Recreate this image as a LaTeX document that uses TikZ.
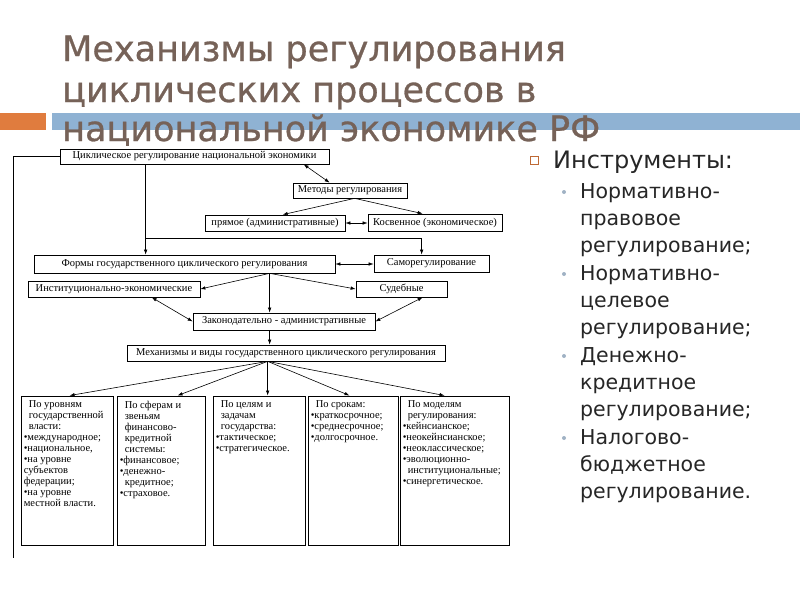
\documentclass[tikz,border=0pt]{standalone}
\usepackage{fontspec}
\setmainfont{Liberation Serif}
\newfontfamily\slidefont{DejaVu Sans}
\newfontfamily\titlefont[FakeBold=0.8]{DejaVu Sans}
\usetikzlibrary{arrows.meta,positioning,calc}

\definecolor{titlebrown}{RGB}{118,98,88}
\definecolor{barblue}{RGB}{143,178,211}
\definecolor{barorange}{RGB}{224,124,62}
\definecolor{dotgray}{RGB}{160,178,196}

\tikzset{
  box/.style={draw, line width=0.7pt, inner sep=0pt, minimum height=15pt, font=\fontsize{10.5}{11}\selectfont},
  colbox/.style={draw, line width=0.9pt, inner sep=0pt, minimum height=149pt},
  coltext/.style={anchor=north west, align=left, inner sep=0pt, font=\fontsize{10.5}{11}\selectfont},
  arr/.style={-{Latex[length=5pt,width=3.5pt]}, line width=0.6pt},
  darr/.style={{Latex[length=5pt,width=3.5pt]}-{Latex[length=5pt,width=3.5pt]}, line width=0.6pt},
  ttl/.style={anchor=base west, inner sep=0pt, text=titlebrown, font=\titlefont\fontsize{35}{40}\selectfont},
  item/.style={anchor=north west, align=left, inner sep=0pt, text=black!85, font=\slidefont\fontsize{20.5}{27}\selectfont},
}

\begin{document}
\begin{tikzpicture}[x=1pt,y=-1pt]
\useasboundingbox (0,0) rectangle (800,600);
%Kopfzeile
\fill[barorange] (0,113) rectangle (46,130);
\fill[barblue] (52,113) rectangle (800,130);
\node[ttl] (ttlA) at (62,61) {Механизмы регулирования};
\node[ttl] (ttlB) at (62,102) {циклических процессов в};
\node[ttl] (ttlC) at (62,141) {национальной экономике РФ};

%Instrumente
\draw[barorange!85!black, line width=0.8pt] (530,156) rectangle (538,164);
\node[anchor=base west, inner sep=0pt, text=black!85, font=\slidefont\fontsize{24}{27}\selectfont] (instr) at (553,168) {Инструменты:};
\foreach \txt [count=\i] in {{Нормативно-\\правовое\\регулирование;},{Нормативно-\\целевое\\регулирование;},{Денежно-\\кредитное\\регулирование;},{Налогово-\\бюджетное\\регулирование.}} {
  \node[item] (item\i) at (580,{183+82*(\i-1)}) {\txt};
  \fill[dotgray] ([xshift=-16pt,yshift=-9pt]item\i.north west) circle (2pt);
}

%Obere Ebene
\node[box, minimum width=269pt] (cyc) at (194.5,156.5) {Циклическое регулирование национальной экономики};
\node[box, minimum width=114pt] (methods) at (350,190.5) {Методы регулирования};
\node[box, minimum width=140pt, minimum height=16pt] (direct) at (275,223) {прямое (административные)};
\node[box, minimum width=134pt, minimum height=17pt] (indirect) at (435,222.5) {Косвенное (экономическое)};
\node[box, minimum width=301pt, minimum height=18pt] (forms) at (184.5,264) {Формы государственного циклического регулирования};
\node[box, minimum width=115pt, minimum height=17pt] (self) at (431.5,263.5) {Саморегулирование};
\node[box, minimum width=172pt, minimum height=16pt] (inst) at (114,289) {Институционально-экономические};
\node[box, minimum width=91pt, minimum height=16pt] (jud) at (401.5,289) {Судебные};
\node[box, minimum width=182pt, minimum height=17pt] (leg) at (284,321.5) {Законодательно - административные};
\node[box, minimum width=318pt, minimum height=16pt] (mech) at (286,353) {Механизмы и виды государственного циклического регулирования};

%Untere Spalten
\node[colbox, minimum width=92pt] (lvl) at (67,470.5) {};
\node[colbox, minimum width=88pt] (sphere) at (161,470.5) {};
\node[colbox, minimum width=92pt] (goal) at (259,470.5) {};
\node[colbox, minimum width=90pt] (term) at (353,470.5) {};
\node[colbox, minimum width=109pt] (model) at (454.5,470.5) {};

\node[coltext] (lvltxt) at ([xshift=3pt,yshift=-5pt]lvl.north west) {\hspace*{5pt}По уровням\\\hspace*{5pt}государственной\\\hspace*{5pt}власти:\\•международное;\\•национальное,\\•на уровне\\субъектов\\федерации;\\•на уровне\\местной власти.};
\node[coltext] (spheretxt) at ([xshift=3pt,yshift=-5pt]sphere.north west) {\hspace*{5pt}По сферам и\\\hspace*{5pt}звеньям\\\hspace*{5pt}финансово-\\\hspace*{5pt}кредитной\\\hspace*{5pt}системы:\\•финансовое;\\•денежно-\\\hspace*{5pt}кредитное;\\•страховое.};
\node[coltext] (goaltxt) at ([xshift=3pt,yshift=-5pt]goal.north west) {\hspace*{5pt}По целям и\\\hspace*{5pt}задачам\\\hspace*{5pt}государства:\\•тактическое;\\•стратегическое.};
\node[coltext] (termtxt) at ([xshift=3pt,yshift=-5pt]term.north west) {\hspace*{5pt}По срокам:\\•краткосрочное;\\•среднесрочное;\\•долгосрочное.};
\node[coltext] (modeltxt) at ([xshift=3pt,yshift=-5pt]model.north west) {\hspace*{5pt}По моделям\\\hspace*{5pt}регулирования:\\•кейнсианское;\\•неокейнсианское;\\•неоклассическое;\\•эволюционно-\\\hspace*{5pt}институциональные;\\•синергетическое.};

%Verbindungen
\coordinate (splitA) at ([xshift=86pt]cyc.south west);
\coordinate (fork) at ([yshift=-74pt]splitA);
\coordinate (leftend) at (13,558);
\draw[line width=0.7pt] (cyc.west) -| (leftend);
\draw[arr] (splitA) -- (splitA |- forms.north);
\draw[arr] (fork) -| ([xshift=48pt]self.north west);
\draw[darr] ([xshift=244pt]cyc.south west) -- ([xshift=37pt]methods.north west);
\coordinate (methout) at ([xshift=62pt]methods.south west);
\draw[arr] (methout) -- ([xshift=78pt]direct.north west);
\draw[arr] (methout) -- ([xshift=55pt]indirect.north west);
\draw[darr] (direct.east) -- (direct.east -| indirect.west);
\draw[darr] (forms.east) -- (forms.east -| self.west);

\coordinate (formsout) at ([xshift=236pt]forms.south west);
\draw[arr] (formsout) -- (inst.east);
\draw[arr] (formsout) -- (formsout |- leg.north);
\draw[arr] (formsout) -- (jud.west);
\draw[darr] ([xshift=124pt]inst.south west) -- (leg.west);
\draw[darr] ([xshift=67pt]jud.south west) -- (leg.east);
\coordinate (legout) at ([xshift=77pt]leg.south west);
\draw[arr] (legout) -- (legout |- mech.north);

\coordinate (mechout) at ([xshift=141pt]mech.south west);
\draw[arr] (mechout) -- ([xshift=49pt]lvl.north west);
\draw[arr] (mechout) -- ([xshift=61pt]sphere.north west);
\draw[arr] (mechout) -- (mechout |- goal.north);
\draw[arr] (mechout) -- ([xshift=42pt]term.north west);
\draw[arr] (mechout) -- ([xshift=45pt]model.north west);
\end{tikzpicture}
\end{document}
